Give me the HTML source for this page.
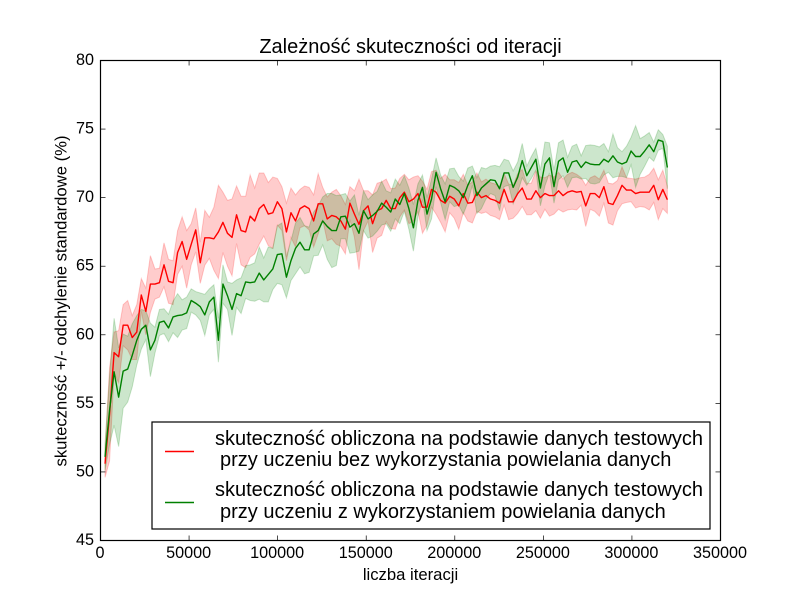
<!DOCTYPE html>
<html>
<head>
<meta charset="utf-8">
<title>Zależność skuteczności od iteracji</title>
<style>
html,body{margin:0;padding:0;background:#fff;width:800px;height:600px;overflow:hidden}
svg{display:block;font-family:"Liberation Sans",sans-serif;fill:#000}
</style>
</head>
<body>
<svg id="chart" width="800" height="600" viewBox="0 0 800 600" xmlns="http://www.w3.org/2000/svg">
  <g id="bands"></g>
  <g id="lines"></g>
  <rect x="100.5" y="60.5" width="620" height="480" fill="none" stroke="#000" stroke-width="1.2"/>
  <g id="ticks"></g>
  <text x="410.5" y="53" font-size="20px" text-anchor="middle">Zależność skuteczności od iteracji</text>
  <text x="410.5" y="580" font-size="16.67px" text-anchor="middle">liczba iteracji</text>
  <text x="0" y="0" font-size="16.67px" text-anchor="middle" transform="translate(66.5 301) rotate(-90)">skuteczność +/- odchylenie standardowe (%)</text>
  <g>
    <rect x="152" y="422" width="558" height="107" fill="#fff" stroke="#000" stroke-width="1.2"/>
    <line x1="165" x2="194" y1="451.5" y2="451.5" stroke="#ff0000" stroke-width="1.39"/>
    <line x1="165" x2="194" y1="502.5" y2="502.5" stroke="#008000" stroke-width="1.39"/>
    <text x="215" y="445" font-size="20px">skuteczność obliczona na podstawie danych testowych</text>
    <text x="220" y="466" font-size="20px">przy uczeniu bez wykorzystania powielania danych</text>
    <text x="215" y="496" font-size="20px">skuteczność obliczona na podstawie danych testowych</text>
    <text x="220" y="518" font-size="20px">przy uczeniu z wykorzystaniem powielania danych</text>
  </g>
</svg>
<script>
const iterationStep = 2560;
const xTickLabels = [0, 50000, 100000, 150000, 200000, 250000, 300000, 350000];
const yTickLabels = [45, 50, 55, 60, 65, 70, 75, 80];
const redMean = [50.6,54.2,58.7,58.4,60.7,60.7,59.8,60.2,62.9,61.7,63.7,63.7,63.8,65.1,63.9,63.8,66.0,66.8,65.5,66.6,67.65,65.25,67.07,67.07,67.0,67.5,68.2,67.4,67.1,68.75,
67.6,67.5,68.65,68.3,69.2,69.5,68.8,68.9,69.7,69.2,67.5,68.9,68.3,69.2,69.4,69.2,68.3,69.55,69.55,68.45,68.7,68.6,68.3,67.7,69.6,68.8,68.05,69.05,69.4,68.1,
69.05,69.2,69.8,69.2,69.2,70.0,70.4,69.7,69.9,70.3,69.3,69.3,70.6,70.4,69.8,69.6,70.1,69.9,69.4,70.3,69.6,69.65,70.4,70.0,70.15,69.9,69.8,69.6,70.6,69.7,
69.7,70.3,70.7,69.9,69.9,70.5,70.0,70.3,70.15,70.15,70.5,70.15,70.4,70.5,70.4,70.45,69.4,70.3,70.3,70.0,70.8,69.6,69.5,70.15,70.9,70.55,70.55,70.3,70.4,70.4,
70.4,70.9,69.85,70.6,69.85];
const redStd = [1.0,3.4,1.5,1.9,1.5,1.8,1.6,2.0,1.2,1.7,2.07,1.1,1.05,1.6,1.6,1.6,1.6,1.8,2.1,1.5,1.6,1.5,2.0,1.5,2.3,3.4,2.2,2.4,2.8,2.1,
2.5,2.6,3.0,2.4,2.6,2.3,2.3,2.6,1.7,1.6,2.1,1.8,1.9,1.4,1.45,1.55,1.9,2.2,1.2,1.6,1.7,2.0,1.85,1.8,1.2,1.7,3.3,1.45,1.1,2.1,
2.0,1.95,1.55,1.45,1.5,1.4,1.3,1.6,1.6,1.3,1.9,1.3,1.3,1.6,1.6,2.1,1.2,1.4,1.7,1.4,1.3,1.5,1.4,1.15,1.2,1.2,1.2,1.2,1.15,1.3,
1.2,1.45,1.35,1.15,1.15,1.45,1.5,1.15,1.5,1.35,1.35,1.2,1.3,1.35,1.3,1.0,1.5,1.15,1.3,1.35,1.2,1.45,1.5,1.1,1.35,0.9,0.85,1.05,1.05,1.1,
1.3,1.25,1.45,1.4,1.0];
const greenMean = [51.1,54.5,57.3,55.45,57.35,57.5,58.5,59.6,60.4,60.7,58.9,59.6,60.9,61.0,60.5,61.3,61.4,61.45,61.6,62.5,62.3,62.05,61.45,62.4,62.75,59.6,63.7,62.85,61.85,63.0,
62.85,63.85,63.8,63.85,64.5,64.0,64.4,64.8,65.85,65.9,64.2,65.4,66.3,66.75,66.2,66.2,67.35,67.6,68.3,67.9,67.6,67.6,68.6,68.65,67.85,68.1,67.4,69.05,68.45,68.7,
69.0,69.6,69.3,68.95,69.9,69.5,70.3,69.2,67.8,69.8,70.75,68.8,69.9,71.85,70.65,69.7,70.9,70.75,70.5,70.0,70.9,71.6,70.15,70.7,71.0,71.3,71.25,70.65,71.8,71.8,
70.75,71.5,72.7,71.6,72.2,72.8,70.7,72.45,72.9,70.8,72.65,72.9,71.85,72.6,72.7,72.2,72.6,72.45,72.4,72.4,72.8,72.6,73.05,72.6,72.45,72.6,73.4,73.0,73.0,73.4,
73.85,73.35,74.2,74.1,72.2];
const greenStd = [1.0,2.5,3.9,3.6,2.7,2.4,2.3,1.8,1.45,1.05,1.95,0.95,0.95,0.9,1.0,1.15,1.6,1.1,1.15,0.85,0.85,1.0,1.5,0.95,0.9,1.6,1.4,1.0,1.9,1.0,
1.3,1.2,1.3,1.4,1.9,1.6,2.0,1.5,2.1,2.25,1.5,1.45,1.85,1.8,1.75,1.65,1.6,1.8,1.75,2.4,2.7,2.55,1.6,1.65,1.9,2.1,1.3,1.45,1.4,1.5,
1.45,1.6,1.2,1.4,1.45,1.4,1.3,1.5,1.7,1.2,0.9,1.2,1.45,1.05,1.0,1.3,1.2,1.4,1.05,1.2,1.25,0.7,1.3,1.5,1.1,1.0,1.1,1.6,1.0,0.9,
1.2,1.1,1.25,0.7,0.8,0.8,1.3,1.6,1.1,1.2,1.35,1.3,1.1,1.15,1.2,0.85,1.2,1.4,1.4,1.3,1.15,0.75,1.6,1.05,0.9,1.15,1.0,2.25,1.3,1.1,
0.9,0.7,0.75,0.5,1.55];

const SVG_NS = 'http://www.w3.org/2000/svg';
function xScale(v){ return 100.5 + (v / 350000) * 620; }
function yScale(v){ return 540.5 - ((v - 45) / 35) * 480; }

function make(tag, attrs, parent){
  const el = document.createElementNS(SVG_NS, tag);
  for (const k in attrs) el.setAttribute(k, attrs[k]);
  parent.appendChild(el);
  return el;
}

const bandsG = document.getElementById('bands');
const linesG = document.getElementById('lines');
const ticksG = document.getElementById('ticks');

function drawBand(mean, std, color, name){
  const upper = mean.map((m, i) => xScale((i + 1) * iterationStep).toFixed(2) + ',' + yScale(m + std[i]).toFixed(2));
  const lower = mean.map((m, i) => xScale((i + 1) * iterationStep).toFixed(2) + ',' + yScale(m - std[i]).toFixed(2)).reverse();
  const band = make('polygon', {points: upper.concat(lower).join(' '), fill: color, 'fill-opacity': 0.2, stroke: color, 'stroke-opacity': 0.2, 'stroke-width': 1}, bandsG);
  
  
}

function drawLine(mean, color, name){
  const pts = mean.map((m, i) => xScale((i + 1) * iterationStep).toFixed(2) + ',' + yScale(m).toFixed(2));
  const line = make('polyline', {points: pts.join(' '), fill: 'none', stroke: color, 'stroke-width': 1.39, 'stroke-linejoin': 'round'}, linesG);
  
  
}

drawBand(redMean, redStd, '#ff0000', 'band-red');
drawBand(greenMean, greenStd, '#008000', 'band-green');
drawLine(redMean, '#ff0000', 'line-red');
drawLine(greenMean, '#008000', 'line-green');

xTickLabels.forEach(function(v){
  const x = xScale(v);
  const bottom = make('line', {x1: x, x2: x, y1: 540.5, y2: 535.5, stroke: '#000', 'stroke-width': 0.7}, ticksG);
  
  
  const top = make('line', {x1: x, x2: x, y1: 60.5, y2: 65.5, stroke: '#000', 'stroke-width': 0.7}, ticksG);
  
  
  const label = make('text', {x: x - 0.5, y: 558, 'font-size': '16.2px', 'text-anchor': 'middle'}, ticksG);
  label.textContent = String(v);
  
  
});

yTickLabels.forEach(function(v){
  const y = yScale(v);
  const left = make('line', {x1: 100.5, x2: 105.5, y1: y, y2: y, stroke: '#000', 'stroke-width': 0.7}, ticksG);
  
  
  const right = make('line', {x1: 720.5, x2: 715.5, y1: y, y2: y, stroke: '#000', 'stroke-width': 0.7}, ticksG);
  
  
  const label = make('text', {x: 94, y: y + 4.5, 'font-size': '16.2px', 'text-anchor': 'end'}, ticksG);
  label.textContent = String(v);
  
  
});
</script>
</body>
</html>
